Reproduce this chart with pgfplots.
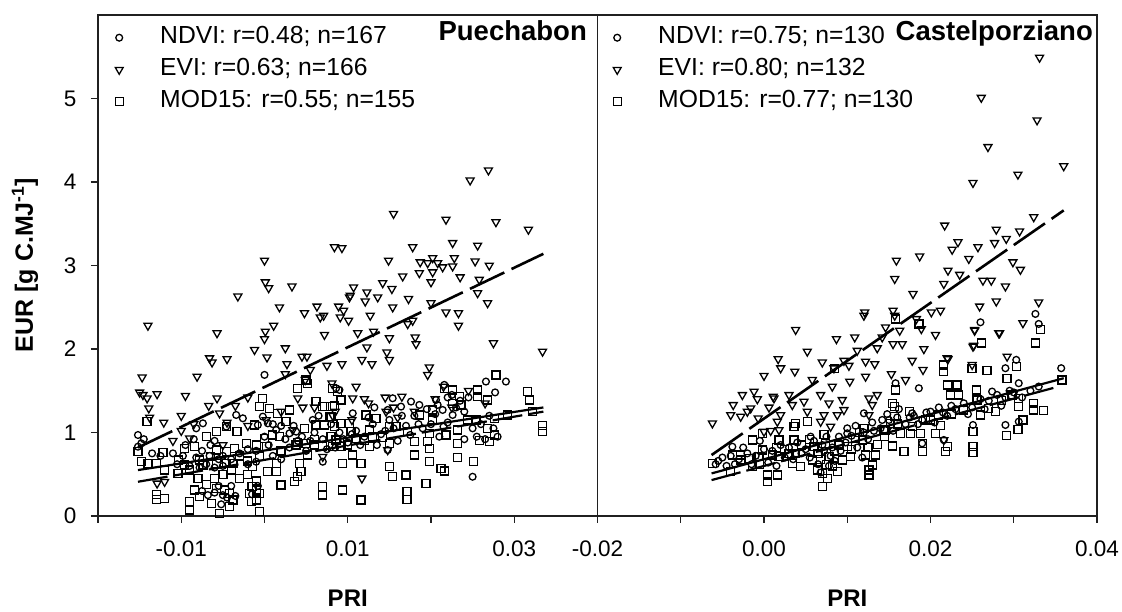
\documentclass[border=0pt]{standalone}
\usepackage{fontspec}
\setmainfont{Liberation Sans}
\usepackage{pgfplots}
\pgfplotsset{compat=1.18}
\newcommand{\fs}[1]{\fontsize{#1}{#1}\selectfont}
\definecolor{axc}{HTML}{202020}
\pgfplotsset{
  panel/.style={
    scale only axis, width=499.5pt, height=501pt,
    ymin=0, ymax=6, clip=false, scaled x ticks=false,
    tick align=outside, xtick pos=lower, ytick pos=left,
    major tick length=7pt, minor tick length=7pt,
    axis line style={axc,line width=1.6pt},
    every tick/.style={axc,line width=1.4pt},
    minor tick style={axc,line width=1.4pt},
    tick label style={font=\fs{22.5}},
    xticklabel style={yshift=-14pt},
    yticklabel style={xshift=-11pt},
    legend cell align=left,
    legend style={draw=none,fill=none,inner sep=0pt,row sep=8pt,
      nodes={inner sep=0pt,text height=18pt,text depth=6pt,font=\fs{24.7}},
      anchor=north west},
  },
  lg/.style={legend image code/.code={\path[draw=none,fill=none] (0pt,0pt) -- (82pt,0pt);\draw[##1,draw=none,mark repeat=2,mark phase=2] plot coordinates {(0pt,0pt)(41pt,0pt)(82pt,0pt)};}},
  ndvi/.style={only marks,lg,mark=o,mark size=3.4pt,mark options={black,draw=black,line width=1.3pt}},
  evi/.style={only marks,lg,mark=triangle,mark size=4.6pt,mark options={black,draw=black,line width=1.3pt,rotate=180}},
  modf/.style={only marks,lg,mark=square,mark size=4pt,mark options={black,draw=black,line width=1.3pt}},
  reg/.style={black,no marks,line width=2.6pt,forget plot},
}
\begin{document}
\begin{tikzpicture}
\useasboundingbox (0,0) rectangle (1122pt,612pt);
% ---------- Puechabon
\begin{axis}[panel, at={(98pt,96pt)}, anchor=south west,
  xmin=-0.02, xmax=0.04,
  xtick={-0.01,0.01,0.03}, xticklabels={-0.01,0.01,0.03},
  minor xtick={-0.02,0,0.02,0.04},
  ytick={0,1,2,3,4,5}, yticklabels={0,1,2,3,4,5},
  legend style={at={(-0.04,0.979)}},
]
\addplot[ndvi] coordinates {
(-.0152,.97)(-.0148,.87)(-.0152,.83)(-.0034,1.21)(-.0026,1.17)(-.0046,1.07)(-.0082,1.05)(-.0074,1.11)
(.0154,1.41)(.0148,1.27)(.0164,1.31)(.0176,1.37)(.0186,1.33)(.0132,1.30)(.0266,1.61)(.0290,1.61)(.0277,1.48)
(.0216,1.57)(.0250,.47)(.0226,1.21)(.0214,1.27)(.0206,1.39)(.0208,1.33)(.0090,1.51)(.0106,1.23)(.0148,.79)
(.0000,1.69)(.0070,.65)(.0086,1.53)(-.0008,1.09)(.0004,1.11)(-.0002,1.19)(.0014,1.03)(.0030,.99)(.0038,1.01)
(-.0125,.72)(-.011,.75)(-.0095,.85)(-.0085,.92)(-.0075,.78)(-.0065,.85)(-.006,.90)(-.005,.72)(-.004,.68)(-.003,.75)
(-.002,.80)(-.001,.65)(.000,.95)(.001,.72)(.002,.68)(.003,.82)(.004,.90)(.005,.78)(.006,1.00)(.007,.92)(.008,1.10)
(.009,1.00)(.010,.88)(.011,1.02)(.012,.95)(.013,1.10)(.014,.98)(.015,1.15)(.016,.90)(.017,1.08)(.018,1.20)(.019,1.05)
(.020,1.10)(.021,.95)(.022,1.12)(.023,1.30)(.024,1.25)(.025,1.05)(.026,1.10)(.027,1.20)(.028,.95)
(-.0145,.92)(-.0135,.75)(-.0105,.62)(-.0098,.72)(-.009,.60)(-.0082,.70)(-.0078,.58)(-.007,.62)(-.0066,.72)(-.006,.58)
(-.0055,.68)(-.005,.60)(-.0075,.30)(-.0068,.25)(-.006,.28)(-.0055,.36)(-.005,.25)(-.0045,.22)(-.0052,.14)(-.0035,.24)
(-.004,.36)(-.0015,.26)(-.0008,.36)(-.002,.62)(-.001,.78)(.0005,.85)(.001,1.10)(.002,1.08)(.0025,.92)(.0035,1.08)
(.0045,.95)(.0055,.90)(.0058,1.15)(.0065,1.20)(.0075,.80)(.0085,.82)(.0095,.92)(.0105,.98)(.0115,.85)(.0125,1.18)
(.0135,.85)(.0145,1.02)(.0155,1.05)(.0165,1.20)(.0175,.97)(.0185,1.10)(.0195,1.28)(.0205,1.22)(.0215,1.07)(.022,1.42)
(.0225,1.45)(.0235,1.38)(.0245,1.42)(.024,.92)(.0255,.95)(.0265,.92)(.0275,1.05)
};
\addlegendentry{NDVI: r=0.48; n=167}
\addplot[evi] coordinates {
(.0000,3.06)(.0084,3.22)(.0093,3.21)(-.0032,2.63)(.0001,2.80)(.0005,2.73)(.0033,2.75)(-.0140,2.28)(-.0057,2.19)
(.0018,2.50)(.0048,2.43)(.0063,2.51)(.0071,2.40)(.0067,2.38)(.0089,2.51)(.0095,2.46)(.0091,2.38)(.0101,2.34)
(.0011,2.28)(.0001,2.21)(.0000,2.12)(.0072,2.17)(.0102,2.62)(-.0066,1.89)(-.0063,1.84)(-.0045,1.88)(-.0012,1.99)
(.0003,1.90)(.0025,2.01)(.0027,1.82)(.0045,1.91)(.0051,1.91)(.0093,1.82)(-.0147,1.66)(-.0150,1.48)(-.0146,1.45)
(-.0141,1.41)(-.0129,1.46)(-.0139,1.29)(-.0138,1.18)(-.0121,1.12)(-.0100,1.20)(-.0095,1.44)(-.0100,1.02)(-.0090,.93)
(-.0067,1.32)(-.0057,1.41)(-.0054,1.23)(-.0081,1.67)(.0040,1.41)(.0046,1.30)(.0049,1.63)(.0081,1.59)(.0070,.71)
(-.0129,.39)(-.0120,.41)(.0269,4.14)(.0247,4.02)(.0155,3.62)(.0218,3.55)(.0278,3.52)(.0317,3.43)(.0178,3.22)
(.0226,3.27)(.0256,3.24)(.0149,3.06)(.0202,3.09)(.0228,3.09)(.0187,3.04)(.0196,3.03)(.0208,3.03)(.0214,2.98)
(.0226,2.99)(.0253,3.05)(.0270,3.00)(.0202,2.92)(.0186,2.91)(.0166,2.87)(.0200,2.80)(.0235,2.86)(.0258,2.83)
(.0142,2.79)(.0153,2.72)(.0107,2.74)(.0103,2.64)(.0123,2.68)(.0121,2.57)(.0136,2.62)(.0256,2.67)(.0268,2.55)
(.0173,2.60)(.0154,2.50)(.0200,2.55)(.0127,2.40)(.0218,2.44)(.0233,2.43)(.0233,2.28)(.0172,2.30)(.0178,2.34)
(.0112,2.19)(.0131,2.21)(.0150,2.13)(.0181,2.14)(.0182,2.06)(.0275,2.07)(.0334,1.97)(.0123,2.02)(.0147,1.96)
(.0150,1.87)(.0117,1.87)(.0129,1.82)(.0198,1.78)(.0196,1.69)(.0110,1.55)(.0106,1.41)(.0117,.45)(.0148,.79)
(-.005,.85)(-.002,1.08)(.0002,1.15)(.0034,1.03)(.006,1.30)(.0082,1.20)(.012,1.40)(.0146,1.25)(.016,1.18)(.018,1.25)(.0165,1.43)
(-.011,.90)(-.0085,1.10)(-.0045,1.12)(-.0035,1.32)(-.002,1.42)(.002,1.25)(.0025,1.70)(.0055,1.75)(.0075,1.80)(.0125,1.35)
(.0145,1.42)(.0215,1.55)(.0245,1.50)(.0265,1.35)(.0085,1.25)(.0105,1.15)(.0155,1.30)(.0205,1.40)(.0225,1.30)
};
\addlegendentry{EVI: r=0.63; n=166}
\addplot[modf] coordinates {
(-.0141,1.13)(-.0152,.77)(-.0148,.65)(-.0140,.63)(-.0130,.63)(-.0122,.76)(-.0120,.55)(-.0130,.26)(-.0130,.20)(-.0120,.21)
(-.0096,.81)(-.0084,.83)(-.0103,.67)(-.0096,.61)(-.0090,.55)(-.0078,.67)(-.0104,.51)(-.0033,1.01)(-.0058,1.01)(-.0070,.95)
(-.0046,1.07)(-.0022,.87)(-.0010,.85)(.0002,.83)(-.0058,.79)(-.0046,.77)(-.0036,.81)(-.0065,.71)(-.0074,.61)(-.0058,.63)
(-.0046,.63)(-.0038,.63)(-.0084,.31)(-.0078,.23)(-.0090,.17)(-.0090,.07)(-.0064,.15)(-.0054,.03)(-.0058,.33)(-.0048,.31)
(-.0042,.27)(-.0038,.19)(-.0042,.11)(-.0018,.27)(-.0010,.31)(-.0006,.27)(-.0016,.17)(-.0010,.19)(-.0006,.05)(-.0014,.59)
(-.0006,.71)(.0004,.53)(.0014,.53)(.0020,.37)(.0014,.63)(-.0002,1.41)(-.0006,1.31)(.0006,1.29)(-.0012,1.09)(.0000,.93)
(.0016,1.23)(.0030,1.27)(.0026,1.13)(.0048,1.05)(.0062,1.09)(.0072,1.09)(.0062,1.37)(.0072,1.31)(.0010,.97)(.0018,.95)
(.0038,.85)(.0050,.87)(.0052,.73)(.0042,.63)(.0044,.53)(.0036,.41)(.0040,.47)(.0070,.35)(.0070,.25)(.0082,1.31)(.0080,1.19)
(.0070,.83)(.0082,1.53)(.0088,1.49)(.0084,1.07)(.0086,.91)(.0050,1.63)(.0040,1.53)(.0052,1.59)
(.0094,.31)(.0116,.19)(.0116,.63)(.0094,.63)(.0106,.73)(.0092,.83)(.0070,1.31)(.0084,1.32)(.0078,1.19)(.0092,1.39)(.0092,1.11)
(.0102,1.11)(.0104,1.01)(.0082,.83)(.0126,.83)(.0122,1.21)(.0134,1.17)(.0142,.94)(.0150,.87)(.0150,.59)(.0154,.47)(.0170,.49)
(.0171,.29)(.0171,.20)(.0180,.73)(.0198,.65)(.0194,.39)(.0196,.89)(.0198,.81)(.0198,.99)(.0218,.97)(.0212,.57)(.0216,.54)
(.0232,.87)(.0232,.70)(.0251,.65)(.0258,.90)(.0270,.89)(.0276,.97)(.0268,1.05)(.0256,1.51)(.0256,1.43)(.0268,1.39)(.0278,1.69)
(.0236,1.33)(.0226,1.35)(.0216,1.53)(.0226,1.51)(.0234,1.43)(.0232,1.03)(.0244,1.15)(.0254,1.15)(.0276,1.17)(.0292,1.21)
(.0316,1.49)(.0318,1.39)(.0322,1.25)(.0334,1.01)(.0334,1.08)(.0186,1.21)(.0202,1.15)(.0202,1.27)(.0150,1.07)(.0158,1.07)
(.0172,1.01)(.0180,.89)(.0126,1.03)
(-.003,.72)(-.002,.66)(.002,.78)(.004,.88)(.006,.92)(.008,.95)(.009,.88)(.011,.93)(.012,.90)(.013,.95)(.006,.85)(.010,.85)
(-.004,.55)(-.003,.45)(-.006,.45)(-.005,.50)(-.007,.38)(-.001,.42)(-.0015,.35)(-.008,.45)(-.002,.50)
};
\addlegendentry{MOD15: r=0.55; n=155}
\addplot[reg,dash pattern=on 38pt off 8pt] coordinates {(-.0152,.82)(.0335,3.14)};
\addplot[reg,line width=2.2pt] coordinates {(-.0152,.55)(.0335,1.30)};
\addplot[reg,line width=2.2pt,dash pattern=on 30pt off 6pt] coordinates {(-.0152,.41)(.0335,1.25)};
\node[anchor=base east,inner sep=0pt,font=\bfseries\fs{27.5}] at (rel axis cs:.979,.950) {Puechabon};
\node[font=\bfseries\fs{24},anchor=center] at (rel axis cs:.5,-.165) {PRI};
\node[font=\bfseries\fs{25},anchor=center,rotate=90] at (-73pt,251pt) {EUR [g C.MJ\textsuperscript{-1}]};
\end{axis}
% ---------- Castelporziano
\begin{axis}[panel, at={(597.5pt,96pt)}, anchor=south west,
  xmin=-0.02, xmax=0.04,
  xtick={-0.02,0,0.02,0.04}, xticklabels={-0.02,0.00,0.02,0.04},
  minor xtick={-0.01,0.01,0.03},
  ytick=\empty,
  legend style={at={(-0.043,0.979)}},
]
\addplot[ndvi] coordinates {
(.0357,1.77)(.0306,1.59)(.0274,1.49)(.0178,1.23)(.0100,.99)(.0056,.95)(.0186,1.53)(.0158,1.59)(.0260,2.32)(.0326,2.42)(.0330,2.30)
(.0303,1.87)(.0290,1.77)(.0290,1.09)(.0306,1.13)(.0251,1.09)(.0216,.91)(.0190,.87)(.0120,1.23)(-.0038,.83)
(-.0055,.66)(-.005,.70)(-.004,.72)(-.003,.68)(-.002,.75)(-.001,.72)(0,.80)(.001,.78)(.002,.85)(.003,.82)(.004,.88)(.005,.80)(.006,.90)
(.007,.85)(.0075,.95)(.008,.72)(.009,.95)(.010,1.05)(.011,1.08)(.012,1.00)(.013,1.12)(.014,1.05)(.015,1.15)(.016,1.18)(.017,1.10)
(.018,1.20)(.019,1.15)(.020,1.25)(.021,1.30)(.022,1.20)(.023,1.28)(.024,1.35)(.025,1.30)(.026,1.40)(.027,1.38)(.028,1.45)(.029,1.42)
(.030,1.48)(.032,1.50)(.033,1.55)
(-.0058,.62)(-.0045,.60)(-.0035,.62)(-.0025,.82)(-.0015,.62)(-.0005,.90)(.0005,.64)(.0015,.60)(.0025,.70)(.0035,.68)(.0045,.75)(.0055,.70)
(.0065,.62)(.0068,.52)(.0072,.78)(.0078,.60)(.0082,.82)(.0085,.66)(.0092,.78)(.0098,.88)(.0105,.96)(.0112,.82)(.0118,.70)(.0125,.92)
(.0132,1.02)(.0142,1.15)(.0148,1.22)(.0155,1.02)(.0162,1.28)(.0175,1.18)(.0185,1.10)(.0195,1.24)(.0205,1.12)(.0215,1.24)(.0225,1.32)
(.0245,1.22)(.0265,1.28)(.0285,1.32)(.0295,1.50)(.031,1.42)
};
\addlegendentry{NDVI: r=0.75; n=130}
\addplot[evi] coordinates {
(.0331,5.49)(.0261,5.01)(.0328,4.74)(.0269,4.42)(.0360,4.19)(.0305,4.09)(.0251,3.99)(.0324,3.58)(.0217,3.48)(.0279,3.43)(.0307,3.41)
(.0291,3.32)(.0277,3.27)(.0233,3.28)(.0226,3.19)(.0257,3.22)(.0246,3.08)(.0187,3.11)(.0159,3.06)(.0157,2.84)(.0221,2.94)(.0235,2.89)
(.0216,2.78)(.0179,2.66)(.0299,3.04)(.0308,2.95)(.0263,2.82)(.0273,2.82)(.0290,2.75)(.0279,2.57)(.0330,2.56)(.0259,2.51)(.0212,2.46)
(.0201,2.44)(.0155,2.46)(.0157,2.40)(.0146,2.26)(.0163,2.22)(.0189,2.24)(.0183,2.36)(.0253,2.22)(.0283,2.19)(.0311,2.31)(.0206,2.17)
(.0252,2.04)(.0155,2.06)(.0166,2.06)(.0192,2.00)(.0178,1.86)(.0191,1.75)(.0153,1.70)(.0170,1.63)(.0221,1.88)(.0292,1.91)(.0142,2.14)
(.0121,2.44)(.0120,2.40)(.0038,2.23)(.0087,2.12)(.0109,2.14)(.0052,1.97)(.0017,1.88)(.0020,1.77)(.0037,1.73)(.0000,1.68)(.0070,1.84)
(.0112,1.98)(.0136,2.01)(.0096,1.86)(.0102,1.80)(.0122,1.85)(.0133,1.82)(.0084,1.77)(.0122,1.67)(.0103,1.61)(.0082,1.55)(.0058,1.63)
(-.0026,1.45)(-.0012,1.49)(.0011,1.43)(.0030,1.45)(.0136,1.45)(.0126,1.41)(.0068,1.45)(.0094,1.39)
(-.0062,1.11)(-.0040,1.21)(-.0037,1.33)(-.0008,1.40)(-.0020,1.25)(-.0016,1.29)(-.0028,1.19)(-.0007,1.17)(.0006,1.30)(.0012,1.41)
(.0048,1.37)(.0016,1.13)(.0020,1.21)(.0034,1.33)(.0078,1.35)(.0096,1.27)(.0088,1.21)(.0072,1.21)(.0052,1.25)(.0126,1.21)(.0130,1.33)
(.0000,1.01)(.0008,1.02)(.0018,1.03)(.0068,1.13)(.0080,1.07)(.0216,.91)(.0220,1.89)(.0253,2.23)(.0251,2.03)(.0282,2.19)(.0250,1.81)
};
\addlegendentry{EVI: r=0.80; n=132}
\addplot[modf] coordinates {
(-.0062,.63)(-.0038,.73)(-.0028,.73)(-.0040,.53)(-.0028,.67)(-.0018,.69)(-.0014,.59)(-.0014,.91)(-.0002,.79)(-.0002,.99)(.0004,.41)
(.0004,.49)(.0016,.49)(.0018,.91)(.0018,.71)(.0036,.91)(.0038,1.11)(.0036,1.07)(.0052,1.13)(.0044,.59)(.0034,.63)(.0030,.75)(.0058,.67)
(.0064,.55)(.0070,.35)(.0070,.51)(.0076,.45)(.0088,.53)(.0104,.71)(.0094,.67)(.0100,.83)(.0110,.93)(.0120,1.05)(.0126,.49)(.0126,.55)
(.0130,.61)(.0134,.73)(.0122,.73)(.0136,.86)(.0154,.84)(.0168,.77)(.0190,.87)(.0190,.77)(.0206,.99)(.0212,1.08)(.0146,1.03)(.0157,1.31)
(.0157,1.19)(.0176,.99)(.0188,.99)(.0218,.77)(.0220,.83)(.0251,1.01)(.0251,.83)(.0251,.76)(.0291,.96)(.0305,1.04)(.0311,1.15)(.0306,1.31)
(.0324,1.35)(.0324,1.27)(.0336,1.26)(.0358,1.63)(.0306,1.41)(.0278,1.25)(.0260,1.21)(.0270,1.29)(.0256,1.39)(.0255,1.51)(.0240,1.27)
(.0234,1.45)(.0224,1.45)(.0220,1.57)(.0232,1.57)(.0216,1.73)(.0216,1.81)(.0261,2.07)(.0326,2.07)(.0332,2.23)(.0268,1.74)(.0292,1.65)
(.0303,1.79)(.0250,1.77)(.0186,2.30)(.0158,2.36)(.0158,1.51)(.0154,1.35)(.0085,1.77)(.0298,1.45)(.0210,1.21)(.0194,1.15)(.0178,1.07)
(.0164,.99)(.0152,1.11)(.0144,1.03)(.0118,.91)(.0090,.85)(.0074,.87)(.0060,.83)(.0078,.71)(.0038,.75)(.0010,.73)(-.0006,.71)
(.0065,.75)(.0075,.62)(.0082,.60)(.0072,.98)(.0085,.78)(.0068,.68)(.0125,.82)(.0115,1.00)(.0105,.80)(.0025,.80)(.0015,.82)(-.0005,.62)
(.0045,.85)(.0055,.92)(.0145,.95)(.0160,1.10)(.0175,1.25)(.0200,1.15)(.0225,1.22)(.0285,1.38)
};
\addlegendentry{MOD15: r=0.77; n=130}
\addplot[reg,dash pattern=on 38pt off 8pt] coordinates {(-.0063,.73)(.0360,3.66)};
\addplot[reg,line width=2.2pt] coordinates {(-.0063,.51)(.0360,1.65)};
\addplot[reg,line width=2.2pt,dash pattern=on 30pt off 6pt] coordinates {(-.0063,.43)(.0350,1.54)};
\node[anchor=base east,inner sep=0pt,font=\bfseries\fs{27.5}] at (rel axis cs:.992,.950) {Castelporziano};
\node[font=\bfseries\fs{24},anchor=center] at (rel axis cs:.5,-.165) {PRI};
\end{axis}
\end{tikzpicture}
\end{document}
